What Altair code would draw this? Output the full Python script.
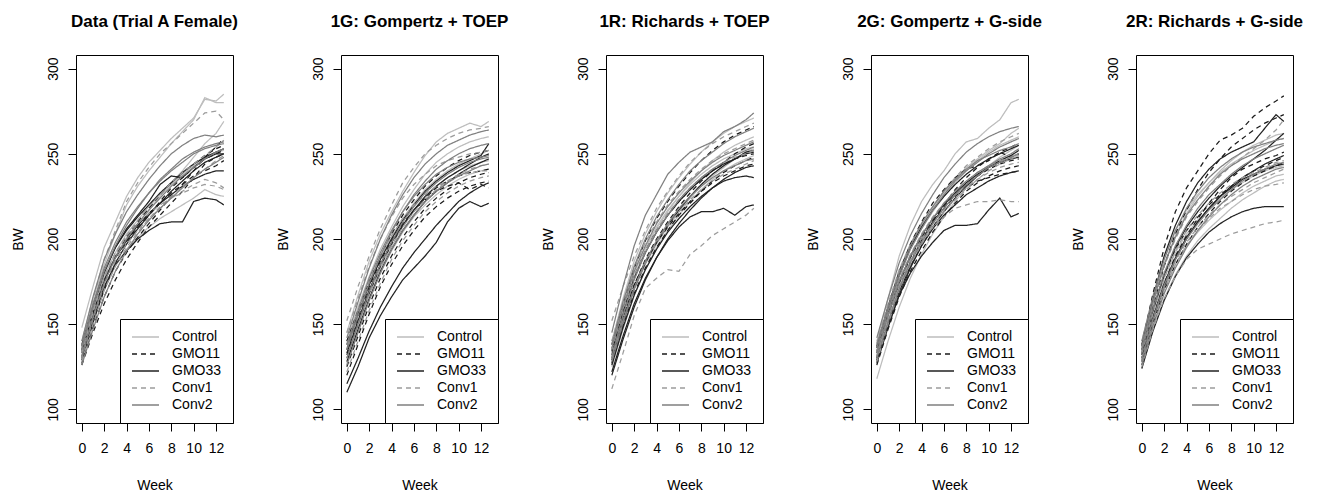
import altair as alt
import pandas as pd

WEEKS = [0, 1, 2, 3, 4, 5, 6, 7, 8, 9, 10, 11, 12, 12.7]
GROUPS = ["Control", "GMO11", "GMO33", "Conv1", "Conv2"]
GROUP_COLORS = ["#bdbdbd", "#1a1a1a", "#222222", "#9c9c9c", "#808080"]
GROUP_DASHES = [[1, 0], [5, 4], [1, 0], [5, 4], [1, 0]]
PANEL_TITLES = ["Data (Trial A Female)", "1G: Gompertz + TOEP", "1R: Richards + TOEP",
                "2G: Gompertz + G-side", "2R: Richards + G-side"]
X_TICKS = [0, 2, 4, 6, 8, 10, 12]
Y_TICKS = [100, 150, 200, 250, 300]

# ---------------- Panel 1: observed data ----------------
DATA_CONTROL = [
    [148, 172, 195, 210, 225, 236, 245, 252, 259, 265, 271, 282, 281, 285],
    [140, 165, 185, 203, 220, 231, 240, 248, 256, 263, 270, 283, 280, 280],
    [132, 156, 176, 190, 201, 209, 217, 225, 233, 240, 248, 256, 262, 269],
    [128, 150, 170, 184, 194, 201, 207, 212, 216, 220, 224, 229, 226, 225],
    [135, 158, 178, 192, 203, 211, 219, 226, 232, 238, 243, 248, 251, 252],
]
DATA_GMO11 = [
    [127, 148, 166, 181, 192, 201, 209, 217, 225, 232, 240, 248, 254, 259],
    [130, 152, 170, 186, 198, 206, 214, 222, 230, 236, 242, 247, 250, 252],
    [133, 156, 176, 190, 201, 210, 218, 226, 233, 239, 244, 249, 253, 255],
    [126, 145, 162, 176, 188, 198, 207, 214, 221, 228, 236, 244, 248, 250],
    [135, 157, 175, 189, 199, 207, 215, 221, 227, 232, 237, 240, 243, 246],
]
DATA_GMO33 = [
    [131, 152, 172, 185, 193, 200, 205, 209, 210, 210, 222, 224, 223, 220],
    [137, 160, 180, 195, 206, 214, 222, 232, 237, 236, 242, 247, 250, 250],
    [129, 151, 171, 186, 197, 206, 214, 221, 228, 234, 240, 245, 248, 250],
    [134, 156, 176, 189, 199, 208, 215, 221, 226, 231, 235, 238, 240, 240],
    [138, 161, 181, 195, 205, 213, 220, 227, 233, 239, 244, 248, 251, 253],
]
DATA_CONV1 = [
    [136, 165, 188, 205, 222, 233, 242, 250, 256, 262, 268, 274, 275, 270],
    [130, 153, 173, 187, 197, 205, 212, 218, 224, 228, 232, 235, 233, 230],
    [133, 157, 177, 191, 202, 211, 219, 226, 233, 239, 244, 249, 254, 258],
    [128, 150, 170, 184, 195, 204, 212, 219, 225, 231, 236, 241, 246, 249],
    [134, 158, 178, 192, 202, 209, 215, 220, 224, 227, 230, 232, 231, 229],
]
DATA_CONV2 = [
    [140, 166, 188, 203, 216, 226, 235, 243, 250, 255, 259, 261, 260, 261],
    [135, 160, 181, 196, 208, 218, 227, 235, 241, 247, 251, 254, 256, 257],
    [131, 154, 174, 189, 200, 209, 217, 224, 231, 237, 242, 247, 251, 253],
    [137, 162, 183, 198, 210, 219, 227, 234, 240, 245, 250, 253, 255, 256],
    [126, 147, 166, 181, 193, 203, 211, 218, 224, 230, 236, 241, 245, 248],
]

# ---------------- Panel 2: 1G Gompertz + TOEP ----------------
G1_CONTROL = [
    [145, 167, 187, 203, 216, 228, 239, 249, 257, 262, 265, 268, 266, 269],
    [140, 160, 178, 194, 207, 219, 229, 238, 245, 250, 254, 257, 259, 260],
    [130, 150, 168, 183, 196, 207, 216, 224, 231, 236, 240, 243, 245, 246],
    [136, 155, 173, 188, 201, 212, 221, 229, 235, 240, 244, 247, 250, 252],
    [127, 146, 164, 180, 193, 204, 213, 220, 226, 231, 235, 238, 240, 241],
]
G1_GMO11 = [
    [140, 158, 175, 190, 203, 214, 223, 231, 237, 242, 246, 249, 251, 252],
    [125, 143, 161, 177, 190, 201, 210, 218, 224, 229, 233, 236, 238, 239],
    [132, 150, 168, 184, 197, 208, 217, 224, 230, 234, 237, 239, 240, 241],
    [120, 138, 156, 172, 185, 196, 205, 213, 219, 224, 228, 231, 233, 234],
    [135, 154, 172, 187, 199, 209, 217, 223, 228, 231, 233, 229, 232, 230],
]
G1_GMO33 = [
    [110, 125, 142, 155, 166, 176, 183, 190, 198, 210, 218, 222, 219, 221],
    [115, 130, 146, 160, 172, 183, 192, 200, 208, 215, 222, 227, 231, 233],
    [138, 156, 173, 188, 200, 211, 220, 228, 234, 239, 243, 246, 249, 256],
    [128, 147, 165, 181, 194, 205, 214, 222, 228, 233, 238, 242, 245, 247],
    [133, 152, 170, 185, 198, 208, 217, 225, 231, 236, 240, 244, 248, 250],
]
G1_CONV1 = [
    [152, 172, 190, 206, 220, 233, 242, 250, 255, 259, 262, 264, 265, 266],
    [145, 165, 184, 200, 213, 224, 232, 238, 243, 246, 248, 250, 251, 252],
    [130, 149, 167, 183, 196, 207, 216, 223, 229, 234, 238, 241, 243, 244],
    [138, 157, 175, 190, 202, 212, 220, 226, 231, 234, 237, 239, 240, 240],
    [122, 140, 158, 174, 188, 199, 208, 216, 222, 227, 231, 234, 236, 237],
]
G1_CONV2 = [
    [142, 163, 183, 200, 214, 226, 236, 244, 250, 255, 258, 261, 263, 264],
    [135, 155, 174, 190, 204, 216, 226, 234, 241, 246, 250, 253, 255, 256],
    [130, 150, 169, 185, 198, 210, 219, 227, 233, 238, 242, 245, 247, 248],
    [138, 158, 177, 192, 205, 216, 225, 232, 238, 242, 245, 247, 248, 249],
    [126, 145, 164, 180, 194, 205, 214, 222, 228, 233, 237, 240, 243, 244],
]

# ---------------- Panel 3: 1R Richards + TOEP ----------------
R1_CONTROL = [
    [140, 165, 187, 203, 216, 227, 236, 244, 251, 257, 262, 266, 269, 271],
    [133, 158, 178, 194, 206, 216, 225, 233, 240, 246, 251, 255, 258, 260],
    [128, 150, 170, 185, 197, 207, 216, 224, 231, 237, 242, 247, 251, 253],
    [136, 160, 180, 195, 207, 217, 225, 232, 238, 243, 247, 250, 253, 254],
    [125, 147, 167, 182, 195, 205, 214, 222, 229, 235, 240, 244, 247, 249],
]
R1_GMO11 = [
    [138, 162, 183, 199, 212, 222, 231, 239, 246, 252, 257, 261, 264, 266],
    [130, 153, 173, 188, 200, 210, 219, 227, 234, 240, 245, 250, 254, 256],
    [135, 158, 178, 193, 205, 214, 222, 229, 235, 240, 244, 247, 249, 250],
    [127, 149, 168, 183, 195, 205, 214, 221, 228, 234, 239, 243, 246, 248],
    [132, 154, 173, 187, 198, 207, 215, 222, 228, 233, 237, 240, 243, 244],
]
R1_GMO33 = [
    [122, 143, 162, 177, 189, 199, 207, 213, 216, 216, 218, 214, 219, 220],
    [120, 141, 160, 176, 189, 200, 209, 217, 224, 230, 235, 239, 242, 243],
    [134, 157, 177, 192, 204, 214, 222, 229, 235, 240, 244, 247, 250, 251],
    [129, 151, 171, 186, 198, 208, 217, 225, 232, 238, 243, 247, 251, 252],
    [126, 148, 167, 182, 194, 204, 212, 219, 225, 230, 234, 236, 237, 236],
]
R1_CONV1 = [
    [112, 133, 155, 171, 177, 182, 181, 191, 196, 202, 206, 210, 214, 218],
    [152, 172, 190, 205, 218, 228, 237, 245, 251, 256, 260, 263, 266, 268],
    [135, 158, 178, 193, 205, 215, 223, 230, 236, 241, 245, 248, 250, 252],
    [130, 152, 171, 186, 198, 208, 216, 223, 229, 234, 238, 241, 244, 246],
    [140, 163, 183, 198, 210, 220, 228, 235, 241, 246, 250, 253, 256, 258],
]
R1_CONV2 = [
    [145, 172, 196, 214, 226, 238, 245, 251, 254, 257, 263, 266, 270, 274],
    [138, 163, 184, 200, 213, 223, 232, 240, 246, 251, 256, 260, 263, 265],
    [131, 155, 176, 192, 204, 214, 223, 230, 236, 241, 245, 249, 252, 254],
    [136, 160, 181, 196, 209, 219, 227, 234, 240, 245, 249, 252, 255, 257],
    [128, 151, 171, 187, 199, 209, 218, 225, 231, 236, 240, 243, 246, 247],
]

# ---------------- Panel 4: 2G Gompertz + G-side ----------------
G2_CONTROL = [
    [140, 165, 190, 208, 222, 232, 240, 250, 257, 259, 265, 270, 280, 282],
    [118, 140, 160, 177, 191, 203, 213, 222, 230, 237, 243, 248, 252, 255],
    [135, 158, 178, 194, 206, 216, 225, 233, 240, 246, 251, 255, 258, 260],
    [130, 152, 172, 187, 199, 209, 218, 226, 233, 239, 243, 246, 249, 250],
    [138, 161, 181, 196, 208, 218, 227, 235, 242, 247, 252, 256, 262, 265],
]
G2_GMO11 = [
    [128, 150, 170, 186, 199, 210, 220, 229, 236, 242, 247, 251, 254, 256],
    [133, 155, 174, 189, 201, 211, 219, 226, 232, 237, 241, 244, 246, 247],
    [136, 160, 181, 197, 210, 221, 229, 236, 241, 243, 246, 251, 248, 250],
    [126, 147, 166, 181, 193, 204, 213, 221, 228, 233, 237, 240, 242, 243],
    [131, 153, 173, 188, 200, 210, 218, 225, 230, 234, 236, 238, 239, 240],
]
G2_GMO33 = [
    [130, 150, 167, 180, 190, 198, 205, 208, 208, 209, 217, 224, 213, 215],
    [127, 148, 167, 183, 196, 207, 216, 224, 231, 237, 242, 246, 249, 252],
    [134, 156, 175, 190, 202, 212, 220, 227, 233, 238, 242, 245, 247, 248],
    [129, 150, 169, 184, 196, 206, 214, 220, 226, 230, 234, 237, 239, 240],
    [137, 159, 179, 195, 207, 217, 225, 232, 238, 243, 247, 250, 253, 255],
]
G2_CONV1 = [
    [132, 153, 172, 187, 198, 207, 213, 218, 220, 222, 222, 223, 222, 222],
    [139, 162, 182, 197, 209, 219, 228, 236, 243, 248, 253, 257, 260, 262],
    [128, 150, 170, 185, 197, 207, 216, 223, 229, 235, 240, 244, 247, 249],
    [134, 156, 176, 191, 203, 213, 221, 228, 234, 239, 243, 246, 248, 249],
    [131, 153, 173, 188, 200, 209, 217, 224, 230, 235, 239, 242, 244, 245],
]
G2_CONV2 = [
    [142, 165, 186, 202, 215, 226, 236, 244, 251, 256, 260, 263, 265, 266],
    [136, 158, 178, 194, 206, 217, 226, 234, 240, 245, 250, 254, 257, 259],
    [130, 151, 171, 186, 198, 209, 218, 226, 232, 237, 242, 245, 248, 250],
    [138, 160, 180, 196, 209, 219, 228, 235, 241, 246, 249, 252, 254, 256],
    [133, 155, 175, 190, 202, 212, 221, 228, 234, 239, 243, 247, 250, 253],
]

# ---------------- Panel 5: 2R Richards + G-side ----------------
R2_CONTROL = [
    [135, 162, 185, 202, 215, 225, 233, 240, 246, 251, 255, 258, 261, 262],
    [128, 152, 171, 185, 196, 204, 211, 217, 222, 227, 231, 234, 237, 238],
    [140, 167, 189, 205, 217, 226, 233, 239, 244, 248, 252, 255, 258, 259],
    [124, 147, 165, 179, 190, 199, 206, 212, 218, 223, 227, 231, 234, 235],
    [132, 157, 177, 192, 203, 211, 218, 224, 229, 233, 237, 240, 242, 243],
]
R2_GMO11 = [
    [138, 168, 195, 216, 230, 240, 250, 258, 261, 265, 272, 277, 281, 284],
    [132, 160, 184, 203, 217, 229, 239, 247, 254, 259, 264, 268, 271, 273],
    [130, 154, 174, 190, 202, 212, 221, 229, 236, 241, 244, 247, 249, 251],
    [126, 150, 170, 185, 197, 207, 215, 222, 228, 233, 237, 240, 243, 245],
    [135, 159, 179, 194, 205, 213, 220, 226, 231, 236, 240, 243, 246, 248],
]
R2_GMO33 = [
    [137, 165, 190, 208, 222, 233, 241, 247, 251, 254, 257, 265, 273, 269],
    [128, 152, 172, 188, 200, 210, 218, 225, 231, 236, 240, 244, 247, 249],
    [124, 146, 164, 178, 189, 197, 204, 209, 213, 216, 218, 219, 219, 219],
    [133, 158, 179, 195, 207, 216, 224, 231, 237, 242, 247, 252, 258, 262],
    [130, 154, 174, 189, 201, 210, 218, 225, 230, 235, 238, 241, 243, 244],
]
R2_CONV1 = [
    [125, 147, 165, 178, 188, 194, 197, 200, 203, 205, 207, 209, 210, 211],
    [130, 153, 172, 187, 198, 207, 214, 220, 225, 229, 233, 236, 239, 241],
    [136, 162, 184, 200, 213, 222, 230, 237, 243, 248, 253, 258, 264, 270],
    [128, 151, 170, 185, 196, 205, 212, 218, 222, 226, 229, 231, 232, 233],
    [133, 157, 177, 193, 205, 214, 221, 227, 232, 236, 239, 242, 245, 246],
]
R2_CONV2 = [
    [140, 166, 188, 205, 218, 228, 236, 242, 247, 251, 254, 256, 258, 259],
    [134, 159, 180, 196, 208, 218, 226, 232, 238, 243, 247, 250, 253, 255],
    [129, 153, 173, 188, 200, 209, 217, 223, 229, 234, 238, 241, 244, 245],
    [137, 163, 185, 201, 214, 223, 231, 238, 243, 247, 250, 253, 255, 256],
    [126, 149, 168, 183, 195, 205, 213, 220, 226, 231, 235, 238, 241, 242],
]

PANEL_DATA = [
    [DATA_CONTROL, DATA_GMO11, DATA_GMO33, DATA_CONV1, DATA_CONV2],
    [G1_CONTROL, G1_GMO11, G1_GMO33, G1_CONV1, G1_CONV2],
    [R1_CONTROL, R1_GMO11, R1_GMO33, R1_CONV1, R1_CONV2],
    [G2_CONTROL, G2_GMO11, G2_GMO33, G2_CONV1, G2_CONV2],
    [R2_CONTROL, R2_GMO11, R2_GMO33, R2_CONV1, R2_CONV2],
]

PLOT_W = 157
PLOT_H = 368


def build_frame(groups_data):
    rows = []
    for g, series_list in zip(GROUPS, groups_data):
        for k, series in enumerate(series_list):
            for w, v in zip(WEEKS, series):
                rows.append({"group": g, "id": f"{g}-{k}", "week": w, "bw": v})
    return pd.DataFrame(rows)


def panel(groups_data, title):
    df = build_frame(groups_data)
    return alt.Chart(df).mark_line(strokeWidth=1.25).encode(
        x=alt.X("week:Q",
                scale=alt.Scale(domain=[-0.52, 13.52], nice=False, zero=False),
                axis=alt.Axis(values=X_TICKS, title="Week")),
        y=alt.Y("bw:Q",
                scale=alt.Scale(domain=[92, 308], nice=False, zero=False),
                axis=alt.Axis(values=Y_TICKS, title="BW")),
        color=alt.Color("group:N",
                        scale=alt.Scale(domain=GROUPS, range=GROUP_COLORS),
                        legend=alt.Legend(title=None)),
        strokeDash=alt.StrokeDash("group:N",
                                  scale=alt.Scale(domain=GROUPS, range=GROUP_DASHES),
                                  legend=alt.Legend(title=None)),
        detail="id:N",
    ).properties(
        width=PLOT_W, height=PLOT_H,
        title=alt.TitleParams(title, anchor="middle", frame="group", baseline="alphabetic",
                              offset=11, fontSize=17, fontWeight="bold",
                              font="Liberation Sans", color="black"),
    )


charts = [panel(d, t) for d, t in zip(PANEL_DATA, PANEL_TITLES)]

chart = alt.hconcat(*charts, spacing=108, bounds="flush").resolve_scale(
    color="independent", strokeDash="independent"
).properties(
    padding={"left": 2, "top": 4, "right": 5, "bottom": 0}
).configure_view(
    stroke="black", strokeWidth=1
).configure_axis(
    domain=False, grid=False, ticks=True, tickColor="black", tickSize=8, tickWidth=1,
    labelFont="Liberation Sans", labelFontSize=14, labelColor="black",
    titleFont="Liberation Sans", titleFontSize=14, titleFontWeight="normal", titleColor="black",
).configure_axisY(
    labelAngle=270, labelAlign="center", labelBaseline="alphabetic", labelPadding=11,
    titleAngle=270, titleAlign="center", titleBaseline="alphabetic", titleX=-54, titleY=184,
).configure_axisX(
    labelAngle=0, labelAlign="center", labelBaseline="alphabetic", labelPadding=21,
    titleAlign="center", titleBaseline="alphabetic", titleX=78.5, titleY=66,
).configure_legend(
    orient="bottom-right", offset=0, strokeColor="black", fillColor="white", padding=11,
    symbolType="stroke", symbolSize=729, symbolStrokeWidth=1.3, clipHeight=14,
    labelFont="Liberation Sans", labelFontSize=14, labelColor="black",
    rowPadding=3, labelOffset=12,
)

chart.save("out.html", embed_options={"renderer": "svg", "actions": False})
